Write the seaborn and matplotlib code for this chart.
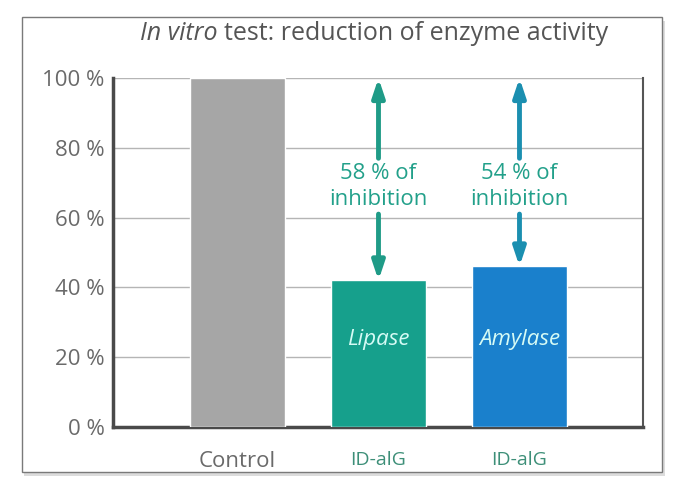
import matplotlib
matplotlib.use("Agg")
import matplotlib.pyplot as plt
import seaborn as sns
import pandas as pd
from matplotlib.patches import Rectangle

categories = ["Control", "Lipase", "Amylase"]
activity = [100, 42, 46]
inhibition = [None, 58, 54]
tick_labels = ["Control", "ID-alG", "ID-alG"]
yticks = [0, 20, 40, 60, 80, 100]

bar_colors = ["#a6a6a6", "#16a08c", "#1a80cc"]
arrow_colors = [None, "#1f9b87", "#1b8fb0"]

sns.set_theme(style="white")
plt.rcParams['font.family'] = ['Open Sans', 'DejaVu Sans']

fig = plt.figure(figsize=(6.92, 4.94), dpi=100)
# outer frame with shadow
fig.patches.append(Rectangle((24/692, 1 - 476/494), 641/692, 455/494, transform=fig.transFigure,
                             facecolor="#dcdcdc", edgecolor="none", zorder=0))
fig.patches.append(Rectangle((22/692, 1 - 472/494), 640/692, 455/494, transform=fig.transFigure,
                             facecolor="white", edgecolor="#7a7a7a", linewidth=1.0, zorder=1))

ax = fig.add_axes([113/692, 1 - 427/494, 530/692, 349/494])
ax.set_zorder(2)
ax.patch.set_alpha(0)

df = pd.DataFrame({"cat": categories, "val": activity})
sns.barplot(data=df, x="cat", y="val", hue="cat", palette=bar_colors, width=0.67,
            legend=False, ax=ax, saturation=1, zorder=3)

ax.set_ylim(0, 100)
ax.set_xlim(-0.883, 2.876)
ax.set_yticks(yticks)
ax.set_yticklabels([f"{v} %" for v in yticks], fontsize=16, color="#6a6a6a")
ax.set_xticks(range(len(categories)))
ax.set_xticklabels(tick_labels, fontsize=16, color="#6a6a6a")
for i, lab in enumerate(ax.get_xticklabels()):
    if i > 0:
        lab.set_color("#3d8f78")
        lab.set_fontsize(14)
ax.tick_params(axis="y", length=0, pad=6)
ax.tick_params(axis="x", length=0, pad=17)
ax.set_xlabel("")
ax.set_ylabel("")
ax.grid(axis="y", color="#b5b5b5", linewidth=1.0, zorder=0)
ax.set_axisbelow(True)
for s in ["left", "bottom"]:
    ax.spines[s].set_color("#4a4a4a")
    ax.spines[s].set_linewidth(2.5)
ax.spines["right"].set_color("#555555")
ax.spines["right"].set_linewidth(1.5)
ax.spines["top"].set_visible(False)

text_y = 69
for i, cat in enumerate(categories):
    if inhibition[i] is None:
        continue
    c = arrow_colors[i]
    x = i
    ax.annotate("", xy=(x, 100), xytext=(x, text_y + 8),
                arrowprops=dict(arrowstyle="-|>,head_length=0.9,head_width=0.3", color=c, lw=3.5,
                                shrinkA=0, shrinkB=0), zorder=5)
    ax.annotate("", xy=(x, activity[i]), xytext=(x, text_y - 8),
                arrowprops=dict(arrowstyle="-|>,head_length=0.9,head_width=0.3", color=c, lw=3.5,
                                shrinkA=0, shrinkB=0), zorder=5)
    ax.text(x, text_y, f"{inhibition[i]} % of\ninhibition", ha="center", va="center",
            fontsize=16, color="#22a08a", linespacing=1.3, zorder=6,
            bbox=dict(facecolor="white", edgecolor="none", pad=0.5))
    ax.text(x, 25, cat, ha="center", va="center", fontsize=16, style="italic",
            color="#d6fbf5", zorder=6)

t1 = fig.text(140/692, 1 - 33/494, "In vitro", ha="left", va="center", fontsize=18,
              style="italic", color="#555555")
fig.canvas.draw()
bb = t1.get_window_extent()
fig.text((bb.x1 + 6) / 692, 1 - 33/494, "test: reduction of enzyme activity", ha="left", va="center",
         fontsize=18, color="#555555")

fig.savefig("out.png", dpi=100)
